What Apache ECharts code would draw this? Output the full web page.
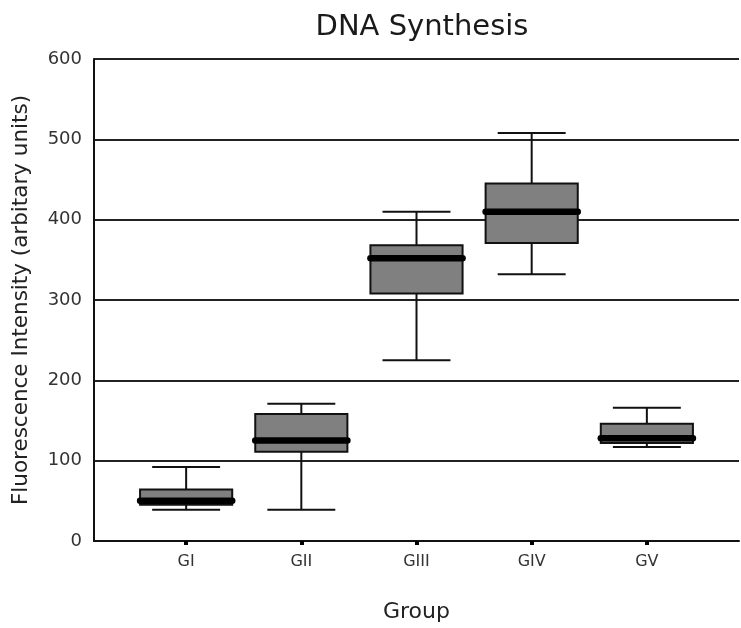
<!DOCTYPE html>
<html>
<head>
<meta charset="utf-8">
<script src="https://cdn.jsdelivr.net/npm/echarts@6/dist/echarts.min.js"></script>
<style>
  html, body { margin: 0; padding: 0; background: #fff; overflow: hidden; }
  #chart { width: 741px; height: 628px; }
</style>
</head>
<body>
<div id="chart"></div>
<script>
// groups on the x axis
const groups = ["GI", "GII", "GIII", "GIV", "GV"];
const groupPos = [1, 2, 3, 4, 5];
// box statistics
const minVals = [39, 39, 225, 332, 117];
const q1Vals = [45, 111, 308, 371, 122];
const medianVals = [50, 125, 352, 410, 128];
const q3Vals = [64, 158, 368, 445, 146];
const maxVals = [92, 171, 410, 508, 166];
const yTicks = [0, 100, 200, 300, 400, 500, 600];

const font = "DejaVu Sans";

// rows for the custom series: [x, min, q1, median, q3, max]
const rows = groups.map(function (g, i) {
  return [groupPos[i], minVals[i], q1Vals[i], medianVals[i], q3Vals[i], maxVals[i]];
});

function renderBox(params, api) {
  const x = api.value(0);
  const pMin = api.coord([x, api.value(1)]);
  const pQ1 = api.coord([x, api.value(2)]);
  const pMed = api.coord([x, api.value(3)]);
  const pQ3 = api.coord([x, api.value(4)]);
  const pMax = api.coord([x, api.value(5)]);
  const boxW = api.size([0.8, 0])[0];
  const capW = api.size([0.59, 0])[0];
  const medW = api.size([0.8, 0])[0];
  const cx = pMed[0];
  const line = { stroke: "#111", lineWidth: 2 };
  return {
    type: "group",
    children: [
      { type: "line", shape: { x1: cx, y1: pMin[1], x2: cx, y2: pQ1[1] }, style: line },
      { type: "line", shape: { x1: cx, y1: pQ3[1], x2: cx, y2: pMax[1] }, style: line },
      { type: "line", shape: { x1: cx - capW / 2, y1: pMin[1], x2: cx + capW / 2, y2: pMin[1] }, style: line },
      { type: "line", shape: { x1: cx - capW / 2, y1: pMax[1], x2: cx + capW / 2, y2: pMax[1] }, style: line },
      {
        type: "rect",
        shape: { x: cx - boxW / 2, y: pQ3[1], width: boxW, height: pQ1[1] - pQ3[1] },
        style: { fill: "#808080", stroke: "#111", lineWidth: 2 }
      },
      {
        type: "line",
        shape: { x1: cx - medW / 2, y1: pMed[1], x2: cx + medW / 2, y2: pMed[1] },
        style: { stroke: "#000", lineWidth: 6.5, lineCap: "round" }
      }
    ]
  };
}

const myChart = echarts.init(document.getElementById("chart"));
const option = {
  animation: false,
  backgroundColor: "#fff",
  title: {
    text: "DNA Synthesis",
    left: 417,
    textAlign: "center",
    top: 8,
    textStyle: { fontFamily: font, fontSize: 29, fontWeight: "normal", color: "#1a1a1a" }
  },
  grid: { left: 94, right: 2, top: 59, bottom: 80 },
  xAxis: {
    type: "value",
    min: 0.2,
    max: 5.8,
    name: "Group",
    nameLocation: "middle",
    nameGap: 60,
    nameTextStyle: { fontFamily: font, fontSize: 22, color: "#222" },
    axisLine: { lineStyle: { color: "#111", width: 2 } },
    axisTick: { show: true, customValues: groupPos, length: 4, lineStyle: { color: "#000", width: 4 } },
    axisLabel: {
      customValues: groupPos,
      margin: 13,
      fontFamily: font,
      fontSize: 16,
      color: "#333",
      formatter: function (v) { return groups[Math.round(v) - 1] || ""; }
    },
    splitLine: { show: false }
  },
  yAxis: {
    type: "value",
    min: 0,
    max: 600,
    interval: 100,
    name: "Fluorescence Intensity (arbitary units)",
    nameLocation: "middle",
    nameGap: 62,
    nameTextStyle: { fontFamily: font, fontSize: 21.5, color: "#222" },
    axisLine: { show: true, lineStyle: { color: "#111", width: 2 } },
    axisTick: { show: false },
    axisLabel: {
      margin: 12,
      fontFamily: font,
      fontSize: 18,
      color: "#333",
      formatter: function (v) { return yTicks.indexOf(v) >= 0 ? String(v) : ""; }
    },
    splitLine: { show: true, lineStyle: { color: "#222", width: 2 } }
  },
  series: [
    {
      type: "custom",
      renderItem: renderBox,
      encode: { x: 0, y: [1, 2, 3, 4, 5] },
      data: rows,
      z: 5
    }
  ]
};
myChart.setOption(option);
</script>
</body>
</html>
